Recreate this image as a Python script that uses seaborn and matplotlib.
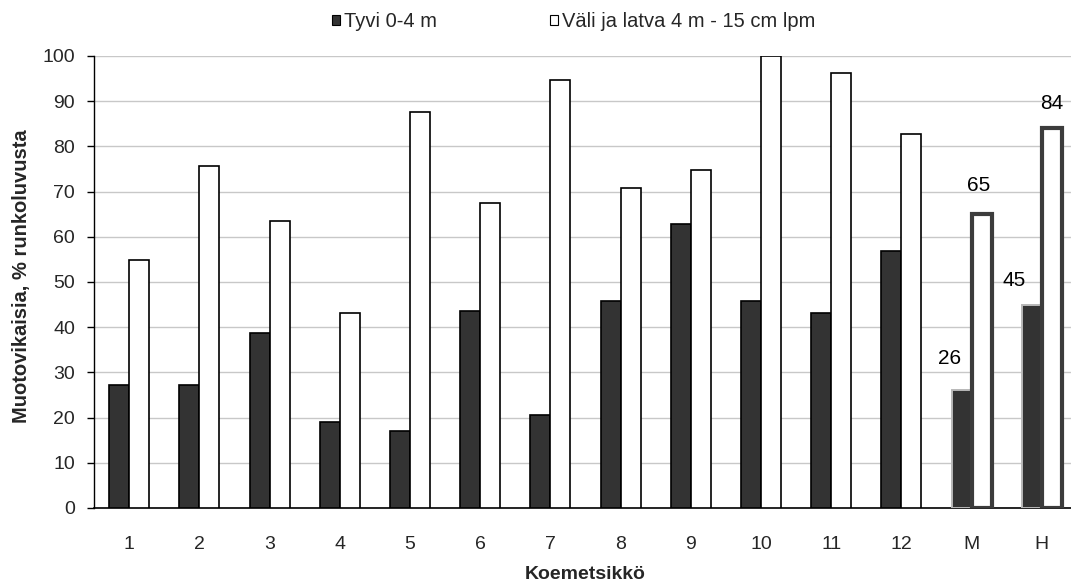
import matplotlib
matplotlib.use("Agg")
import matplotlib.pyplot as plt
from matplotlib.patches import Patch
import pandas as pd
import seaborn as sns

# Stand categories and defect shares (% of stems)
categories = ["1", "2", "3", "4", "5", "6", "7", "8", "9", "10", "11", "12", "M", "H"]
tyvi = [27.3, 27.3, 38.8, 19.1, 17.1, 43.5, 20.5, 45.7, 62.8, 45.7, 43.1, 56.9, 26, 45]
vali = [54.8, 75.7, 63.5, 43.1, 87.7, 67.4, 94.7, 70.9, 74.8, 100, 96.3, 82.7, 65, 84]
series_names = ["Tyvi 0-4 m", "Väli ja latva 4 m - 15 cm lpm"]
summary_categories = ["M", "H"]

df = pd.DataFrame({
    "Koemetsikkö": categories * 2,
    "arvo": tyvi + vali,
    "sarja": [series_names[0]] * len(categories) + [series_names[1]] * len(categories),
})

sns.set_style("white")
plt.rcParams["font.family"] = ["Liberation Sans", "DejaVu Sans"]

fig = plt.figure(figsize=(10.71, 5.85), dpi=100)
ax = fig.add_axes([94 / 1071, 77 / 585, 983 / 1071, 452 / 585])

dark = "#333333"
sns.barplot(data=df, x="Koemetsikkö", y="arvo", hue="sarja", order=categories,
            hue_order=series_names, palette=[dark, "#ffffff"], width=0.57,
            gap=0, saturation=1, edgecolor="black", linewidth=1.2,
            legend=False, ax=ax, zorder=3)

n = len(categories)
patches = ax.patches
for i, cat in enumerate(categories):
    if cat in summary_categories:
        dp = patches[i]
        lp = patches[n + i]
        dp.set_edgecolor("#b8b8b8")
        dp.set_linewidth(1.4)
        lp.set_edgecolor("#3c3c3c")
        lp.set_linewidth(3.0)

# value labels on the summary bars (offsets in points from the bar top)
label_offsets = {("M", 0): (-8.5, 23), ("M", 1): (-2.5, 20.5),
                 ("H", 0): (-13, 17), ("H", 1): (0, 18)}
for i, cat in enumerate(categories):
    if cat in summary_categories:
        for s, vals in enumerate([tyvi, vali]):
            p = patches[s * n + i]
            x = p.get_x() + p.get_width() / 2
            dx, dy = label_offsets[(cat, s)]
            ax.annotate(f"{vals[i]:.0f}", (x, vals[i]), xytext=(dx, dy),
                        textcoords="offset points", ha="center", va="center",
                        fontsize=15, color="black")

ax.set_ylim(0, 100)
ax.set_xlim(-0.5, n - 0.5)
ax.set_yticks(range(0, 101, 10))
ax.yaxis.grid(True, color="#c8c8c8", linewidth=1.0, zorder=0)
ax.set_axisbelow(True)
for side in ["top", "right"]:
    ax.spines[side].set_visible(False)
ax.spines["left"].set_color("black")
ax.spines["left"].set_linewidth(1.0)
ax.spines["bottom"].set_color("black")
ax.spines["bottom"].set_linewidth(1.2)
ax.tick_params(axis="y", which="both", left=True, direction="out", length=5,
               width=1, color="black", pad=8.5, labelsize=14)
ax.tick_params(axis="x", bottom=False, pad=17, labelsize=14)

ax.set_xlabel("Koemetsikkö", fontsize=14, fontweight="bold", labelpad=9)
ax.set_ylabel("Muotovikaisia, % runkoluvusta", fontsize=14.5, fontweight="bold")
ax.yaxis.set_label_coords(-0.064, 0.513)

handles = [Patch(facecolor=dark, edgecolor="black", linewidth=0.8),
           Patch(facecolor="white", edgecolor="black", linewidth=0.8)]
fig.legend(handles, series_names, loc="center left", bbox_to_anchor=(332 / 1071, 0.963),
           ncol=2, frameon=False, fontsize=14.5, handlelength=0.4, handleheight=0.4,
           handletextpad=0.2, columnspacing=5.6, borderpad=0, borderaxespad=0)

fig.savefig("out.png", dpi=100)
